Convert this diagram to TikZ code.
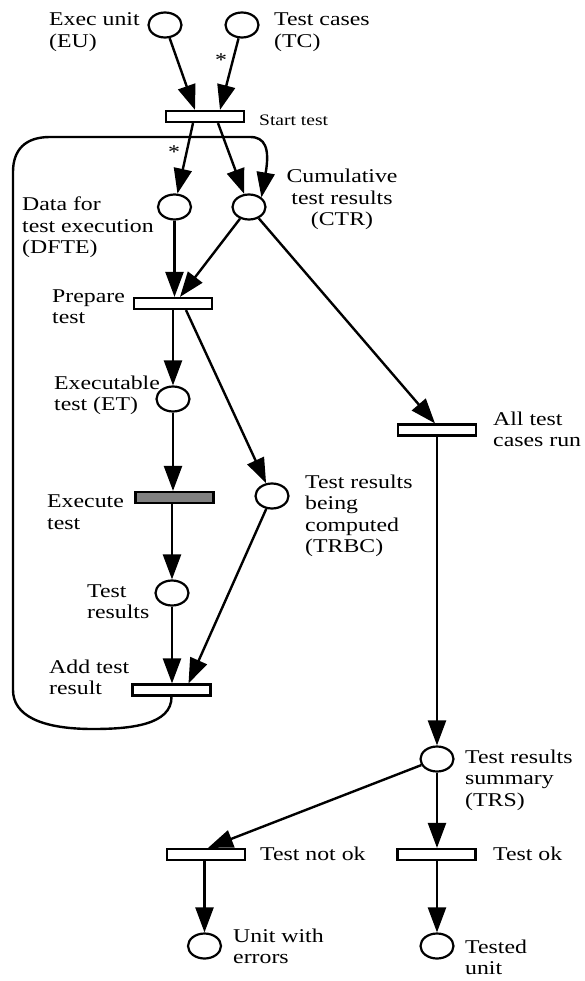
\documentclass[tikz,border=0pt]{standalone}
\usepackage{fontspec}
\setmainfont{Liberation Serif}[FakeStretch=1.22]
\usetikzlibrary{shapes.geometric,arrows.meta}

\begin{document}
\begin{tikzpicture}[x = 1pt, y = -1pt,
	place/.style = {ellipse,draw,line width=2.2pt,minimum width=33pt,minimum height=25pt,inner sep=0pt,fill=white},
	trans/.style = {rectangle,draw,line width=2.2pt,minimum width=78pt,minimum height=11pt,inner sep=0pt,fill=white},
	lbl/.style = {anchor=base west,inner sep=0pt,align=left,font=\fontsize{19.5}{21.5}\selectfont},
	arc/.style = {line width=2.4pt,-{Triangle[length=25pt,width=18pt]}},]
		
		\useasboundingbox (0,0) rectangle (584,981);
		
		% places
		\node[place] (EU) at (165,25) {};
		\node[place] (TC) at (242,25) {};
		\node[place] (DFTE) at (174.5,207) {};
		\node[place] (CTR) at (249,207) {};
		\node[place] (ET) at (173,399) {};
		\node[place] (TRBC) at (272,496) {};
		\node[place] (TR) at (172,593) {};
		\node[place] (TRS) at (437,759) {};
		\node[place] (UWE) at (204.5,946) {};
		\node[place] (TU) at (437,946) {};
		
		% transitions
		\node[trans] (ST) at (205,116.5) {};
		\node[trans] (PT) at (173,303.5) {};
		\node[trans, fill=gray] (EX) at (174.5,497.5) {};
		\node[trans] (AT) at (171.5,690) {};
		\node[trans] (ACR) at (437,430) {};
		\node[trans] (TNO) at (206,854.5) {};
		\node[trans] (TOK) at (436.5,854.5) {};
		
		% labels (anchored at the baseline of their last line)
		\node[lbl] (lEU) at (49,47.5) {Exec unit\\(EU)};
		\node[lbl] (lTC) at (274,47.5) {Test cases\\(TC)};
		\node[lbl, font=\fontsize{16}{18}\selectfont] (lST) at (259,126) {Start test};
		\node[lbl] (lDFTE) at (22,254) {Data for\\test execution\\(DFTE)};
		\node[lbl, align=center, anchor=base] (lCTR) at (342,226) {Cumulative\\test results\\(CTR)};
		\node[lbl] (lPT) at (52,323.5) {Prepare\\test};
		\node[lbl] (lET) at (54,410.5) {Executable\\test (ET)};
		\node[lbl] (lEX) at (47,529) {Execute\\test};
		\node[lbl] (lTRBC) at (305,552.5) {Test results\\being\\computed\\(TRBC)};
		\node[lbl] (lTR) at (87,618.5) {Test\\results};
		\node[lbl] (lAT) at (49,694.5) {Add test\\result};
		\node[lbl] (lACR) at (493,446.5) {All test\\cases run};
		\node[lbl] (lTRS) at (465,806) {Test results\\summary\\(TRS)};
		\node[lbl] (lTNO) at (260,860) {Test not ok};
		\node[lbl] (lTOK) at (493,860) {Test ok};
		\node[lbl] (lUWE) at (233,963.5) {Unit with\\errors};
		\node[lbl] (lTU) at (465,974.5) {Tested\\unit};
		\node[lbl, anchor=center] (s1) at (221,60) {*};
		\node[lbl, anchor=center] (s2) at (174,152) {*};
		
		% arcs
		\draw[arc] (EU) -- ([xshift=-10pt]ST.north);
		\draw[arc] (TC) -- ([xshift=15pt]ST.north);
		\draw[arc] ([xshift=-12pt]ST.south) -- (DFTE);
		\draw[arc] ([xshift=13pt]ST.south) -- (CTR);
		\draw[arc] (AT.south) .. controls (172,725) and (130,729) .. (93,729)
			.. controls (40,729) and (13,715) .. (13,690) -- (13,172)
			.. controls (13,150) and (25,137) .. (50,137) -- (250,137)
			.. controls (265,137) and (270,148) .. (CTR.north east);
		\draw[arc] (DFTE.south) -- (DFTE.south|-PT.north);
		\draw[arc] (CTR) -- ([xshift=7pt]PT.north);
		\draw[arc] (PT.south) -- (ET.north);
		\draw[arc] ([xshift=13pt]PT.south) -- (TRBC);
		\draw[arc] (ET.south) -- (EX.north-|ET.south);
		\draw[arc] (TR.north|-EX.south) -- (TR.north);
		\draw[arc] (TR.south) -- (TR.south|-AT.north);
		\draw[arc] (TRBC) -- ([xshift=17pt]AT.north);
		\draw[arc] (CTR) -- ([xshift=-2pt]ACR.north);
		\draw[arc] (ACR.south) -- (TRS.north);
		\draw[arc] (TRS) -- ([xshift=2pt]TNO.north);
		\draw[arc] (TRS.south) -- (TRS.south|-TOK.north);
		\draw[arc] (UWE.north|-TNO.south) -- (UWE.north);
		\draw[arc] (TU.north|-TOK.south) -- (TU.north);
		
	\end{tikzpicture}
\end{document}
